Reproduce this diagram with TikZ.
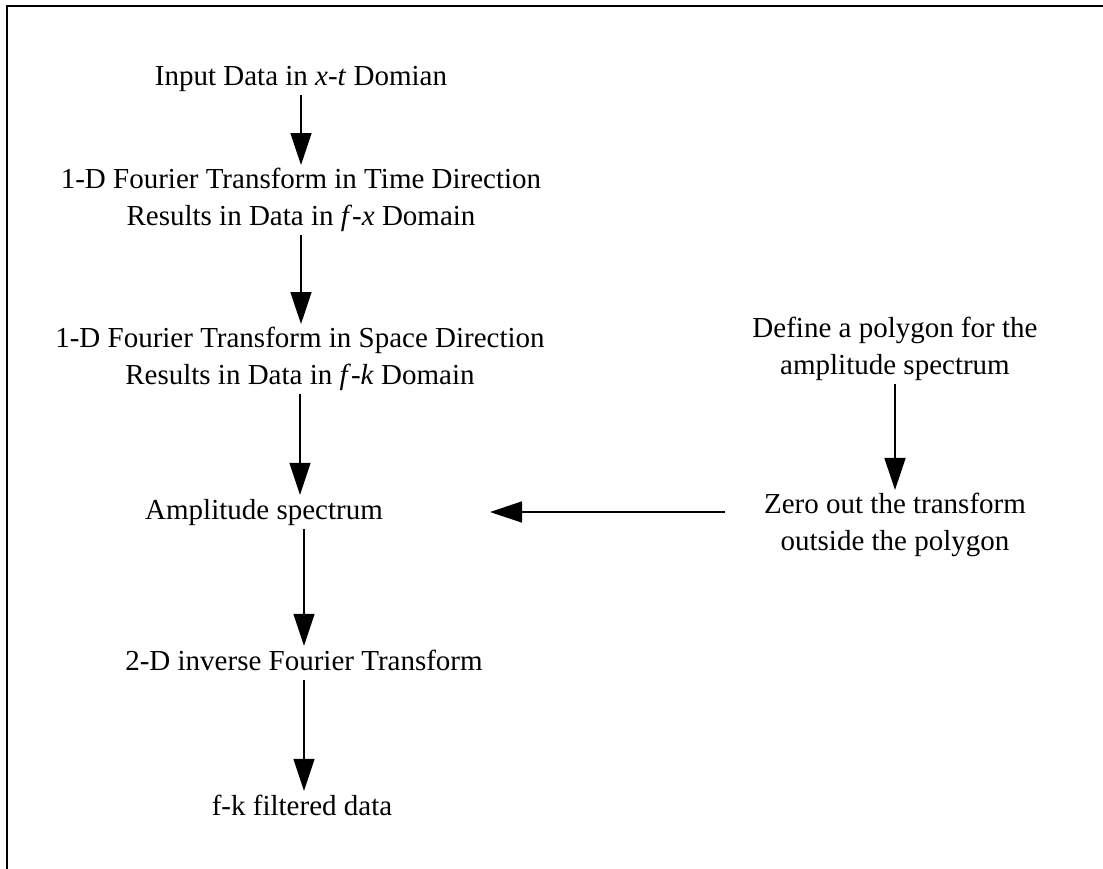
\documentclass[tikz,border=0pt]{standalone}
\usepackage{fontspec}
\setmainfont{Liberation Serif}
\usetikzlibrary{arrows.meta}
\begin{document}
\begin{tikzpicture}[x=1pt,y=-1pt,
    font=\fontsize{29}{37}\selectfont,
    >={Triangle[length=32pt,width=21pt]},
    every node/.style={inner sep=3pt,text height=21pt,text depth=7pt},
    flowarrow/.style={->,line width=1.5pt}]
    \useasboundingbox (0,0) rectangle (1103,868);
    \draw[line width=2pt] (7,6) rectangle (1130,900);

    \node[anchor=base] (input) at (301,85) {Input Data in \textit{x}-\textit{t} Domian};
    \node[align=center,text height=,text depth=] (timeft) at (301,200)
        {1-D Fourier Transform in Time Direction\\Results in Data in \textit{f}-\textit{x} Domain};
    \node[align=center,text height=,text depth=] (spaceft) at (300,359)
        {1-D Fourier Transform in Space Direction\\Results in Data in \textit{f}-\textit{k} Domain};
    \node[anchor=base] (amp) at (264,519) {Amplitude spectrum};
    \node[anchor=base] (inv) at (304,670) {2-D inverse Fourier Transform};
    \node[anchor=base] (filt) at (302,815) {f-k filtered data};

    \node[align=center,text height=,text depth=] (poly) at (895,349)
        {Define a polygon for the\\amplitude spectrum};
    \node[align=center,text height=,text depth=] (zero) at (895,525)
        {Zero out the transform\\outside the polygon};

    \draw[flowarrow] (input.south) -- (input.south |- timeft.north);
    \draw[flowarrow] (timeft.south) -- (timeft.south |- spaceft.north);
    \draw[flowarrow] (spaceft.south) -- (spaceft.south |- amp.north);
    \draw[flowarrow] (inv.north |- amp.south) -- (inv.north);
    \draw[flowarrow] (inv.south) -- (inv.south |- filt.north);
    \draw[flowarrow] (poly.south) -- (zero.north);
    \draw[flowarrow] ([xshift=-36pt]zero.west |- amp.east) -- ([xshift=104pt]amp.east);
\end{tikzpicture}
\end{document}
